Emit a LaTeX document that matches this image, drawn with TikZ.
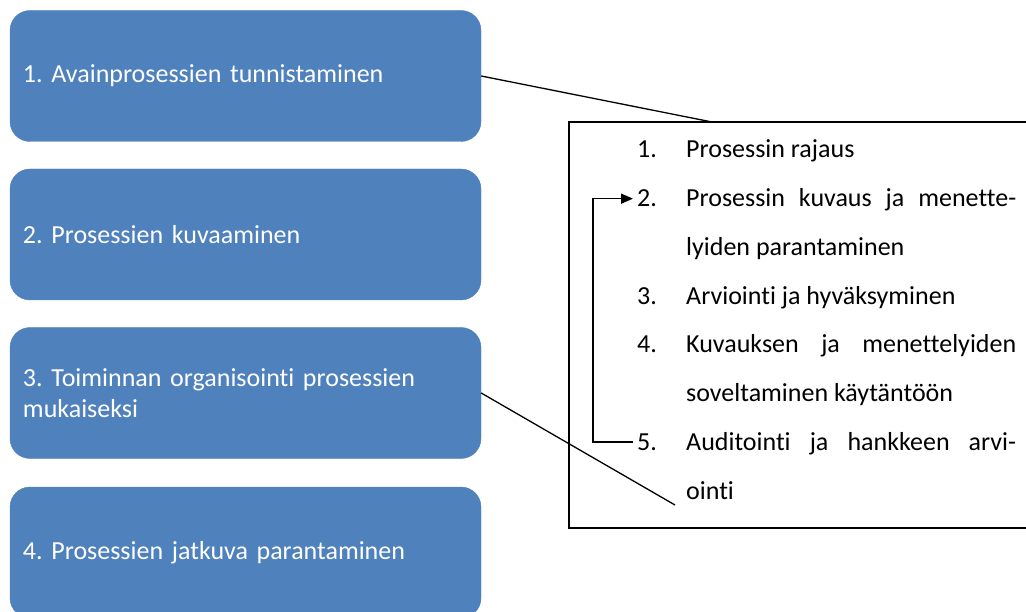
\documentclass[tikz,border=0pt]{standalone}
\usepackage{fontspec}
\setmainfont{Carlito}[Ligatures=NoCommon]
\frenchspacing
\usetikzlibrary{arrows.meta}

\definecolor{phaseblue}{HTML}{4F81BD}

\begin{document}
\begin{tikzpicture}[
  x=1pt, y=-1pt,
  >={Triangle[length=12pt,width=10pt]},
  phase/.style={fill=phaseblue, draw=phaseblue, rounded corners=20pt,
    minimum width=471pt, minimum height=131pt, text width=445pt,
    inner xsep=13pt, align=left, text=white,
    font=\fontsize{26}{31}\selectfont},
  num/.style={anchor=base west, inner sep=4pt, font=\fontsize{26}{31}\selectfont},
  item/.style={anchor=base west, inner sep=0pt, font=\fontsize{26}{31}\selectfont},
  link/.style={line width=1.3pt}
]
  \useasboundingbox (0,0) rectangle (1026,612);

  % Left column: the four phases
  \node[phase] (ph1) at (245.5,76) {1. Avainprosessien tunnistaminen};
  \node[phase] (ph2) at (245.5,234.5) {2. Prosessien kuvaaminen};
  \node[phase] (ph3) at (245.5,393) {3. Toiminnan organisointi prosessien\\mukaiseksi};
  \node[phase] (ph4) at (245.5,552.5) {4. Prosessien jatkuva parantaminen};

  % Right: frame with the sub-steps
  \draw[line width=1.2pt] (1030,122) -| (569,528) -- (1030,528);
  \coordinate (ftop) at (712,122);
  \coordinate (fend) at (675,505);

  \node[num] (n1) at (633,158) {1.};
  \node[num] (n2) at (633,207) {2.};
  \node[num] (n3) at (633,304.4) {3.};
  \node[num] (n4) at (633,353) {4.};
  \node[num] (n5) at (633,450.4) {5.};

  \node[item] (l1) at (686,158) {Prosessin rajaus};
  \node[item] (l2) at (686,207) {\makebox[330pt][s]{Prosessin kuvaus ja menette-}};
  \node[item] (l3) at (686,255.7) {lyiden parantaminen};
  \node[item] (l4) at (686,304.4) {Arviointi ja hyväksyminen};
  \node[item] (l5) at (686,353) {\makebox[330pt][s]{Kuvauksen ja menettelyiden}};
  \node[item] (l6) at (686,401.7) {soveltaminen käytäntöön};
  \node[item] (l7) at (686,450.4) {\makebox[330pt][s]{Auditointi ja hankkeen arvi-}};
  \node[item] (l8) at (686,499) {ointi};

  % connectors
  \draw[link] (ph1.east) -- (ftop);
  \draw[link] (ph3.east) -- (fend);
  \draw[line width=1.5pt,->] (n5.west) -- ++(-40,0) |- (n2.west);
\end{tikzpicture}
\end{document}
